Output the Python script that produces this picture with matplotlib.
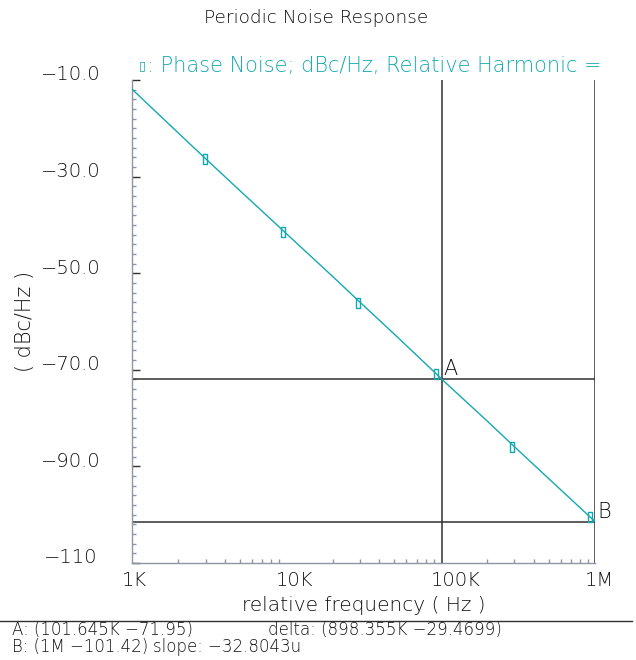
import matplotlib
matplotlib.use("Agg")
import matplotlib.pyplot as plt
import matplotlib.transforms as mtransforms
from matplotlib.ticker import FixedLocator, NullFormatter

# Phase-noise curve (relative frequency in Hz, dBc/Hz)
freq = [1e3, 2e3, 3e3, 5e3, 1e4, 2e4, 3e4, 5e4, 1e5, 101.645e3, 2e5, 3e5, 5e5, 1e6]
noise = [-11.9, -21.0, -26.3, -32.9, -41.8, -50.7, -56.0, -62.6, -71.7, -71.95,
         -80.6, -85.9, -92.5, -101.42]

# Curve symbol positions
mark_freq = [2.97e3, 9.5e3, 29e3, 93e3, 290e3, 930e3]
mark_val = [-26.4, -41.5, -56.2, -70.8, -86.0, -100.5]

# Markers A and B
mark_a = (101.645e3, -71.95)
mark_b = (1e6, -101.42)

ytick_vals = [-10, -30, -50, -70, -90, -110]
ytick_labels = ["\u221210.0", "\u221230.0", "\u221250.0", "\u221270.0", "\u221290.0", "\u2212110"]
xtick_vals = [1e3, 1e4, 1e5, 1e6]
xtick_labels = ["1K", "10K", "100K", "1M"]

teal = "#14a9b0"
spine_c = "#8a96a3"
dark = "#303030"
txt_c = "#111111"
plt.rcParams["font.family"] = ["DejaVu Sans"]
plt.rcParams["font.weight"] = "light"
plt.rcParams["axes.labelweight"] = "light"

fig = plt.figure(figsize=(6.36, 6.6), dpi=100)
ax = fig.add_axes([132 / 636, 1 - 563 / 660, 463 / 636, 483 / 660])
ax.set_xscale("log")
ax.set_xlim(1e3, 1e6)
ax.set_ylim(-110, -10)

ax.plot(freq, noise, color=teal, lw=1.0, zorder=3)
tall_box = [(-0.45, -1), (0.45, -1), (0.45, 1), (-0.45, 1), (-0.45, -1)]
ax.plot(mark_freq, mark_val, ls="none", marker=tall_box, ms=7, mfc="none",
        mec=teal, mew=1.0, zorder=4)

# Marker cross-hairs
for (fx, fy), name in [(mark_a, "A"), (mark_b, "B")]:
    ax.axvline(fx, color=dark, lw=1.1, zorder=2)
    ax.axhline(fy, color=dark, lw=1.1, zorder=2)
    ax.annotate(name, (fx, fy), xytext=(1.5, 0), textcoords="offset points",
                fontsize=15, color=txt_c, ha="left", va="bottom")

for s in ["top", "right"]:
    ax.spines[s].set_visible(False)
for s in ["left", "bottom"]:
    ax.spines[s].set_color(spine_c)
    ax.spines[s].set_linewidth(1.0)

ax.set_yticks(ytick_vals)
ax.set_yticklabels(ytick_labels)
ax.yaxis.set_minor_locator(FixedLocator(list(range(-110, -9, 2))))
ax.set_xticks(xtick_vals)
ax.set_xticklabels(xtick_labels)
ax.tick_params(axis="y", which="major", direction="in", length=6, width=1,
               color=dark, labelsize=14, labelcolor=txt_c, pad=44)
ax.tick_params(axis="y", which="minor", direction="in", length=3, width=1,
               color=spine_c)
ax.tick_params(axis="x", which="major", direction="in", length=0,
               labelsize=14, labelcolor=txt_c, pad=6)
ax.tick_params(axis="x", which="minor", direction="in", length=3, width=1,
               color=spine_c)
ax.xaxis.set_minor_formatter(NullFormatter())

y_shift = mtransforms.ScaledTranslation(0, 7 / 100, fig.dpi_scale_trans)
for lab in ax.get_yticklabels():
    lab.set_horizontalalignment("center")
    lab.set_transform(lab.get_transform() + y_shift)
x_shift = mtransforms.ScaledTranslation(-10 / 100, 0, fig.dpi_scale_trans)
for lab in ax.get_xticklabels():
    lab.set_horizontalalignment("left")
    lab.set_transform(lab.get_transform() + x_shift)

ax.set_xlabel("relative frequency ( Hz )", fontsize=14.5, color=txt_c, labelpad=4)
ax.set_ylabel("( dBc/Hz )", fontsize=15, color=txt_c)
ax.yaxis.set_label_coords((35 - 132) / 463, 0.5)

fig.text(316 / 636, 1 - 18 / 660, "Periodic Noise Response", ha="center",
         va="center", fontsize=13.2, color=txt_c)
# Trace legend: symbol glyph in the regular face, caption in the light face
fig.text(139 / 636, 1 - 66 / 660, "\u25af", ha="left", va="center",
         fontsize=9, fontweight="normal", color=teal)
fig.text(147 / 636, 1 - 66 / 660, ": Phase Noise; dBc/Hz, Relative Harmonic =",
         ha="left", va="center", fontsize=15, color=teal)

# Marker readout
fig.add_artist(plt.Line2D([0, 632 / 636], [1 - 621 / 660] * 2, color=dark, lw=1.0))
fig.text(12 / 636, 1 - 630 / 660, "A: (101.645K \u221271.95)", ha="left",
         va="center", fontsize=12, color=txt_c)
fig.text(268 / 636, 1 - 630 / 660, "delta: (898.355K \u221229.4699)", ha="left",
         va="center", fontsize=12, color=txt_c)
fig.text(12 / 636, 1 - 647 / 660, "B: (1M \u2212101.42)", ha="left",
         va="center", fontsize=12, color=txt_c)
fig.text(153 / 636, 1 - 647 / 660, "slope: \u221232.8043u", ha="left",
         va="center", fontsize=12, color=txt_c)

fig.savefig("out.png", dpi=100)
